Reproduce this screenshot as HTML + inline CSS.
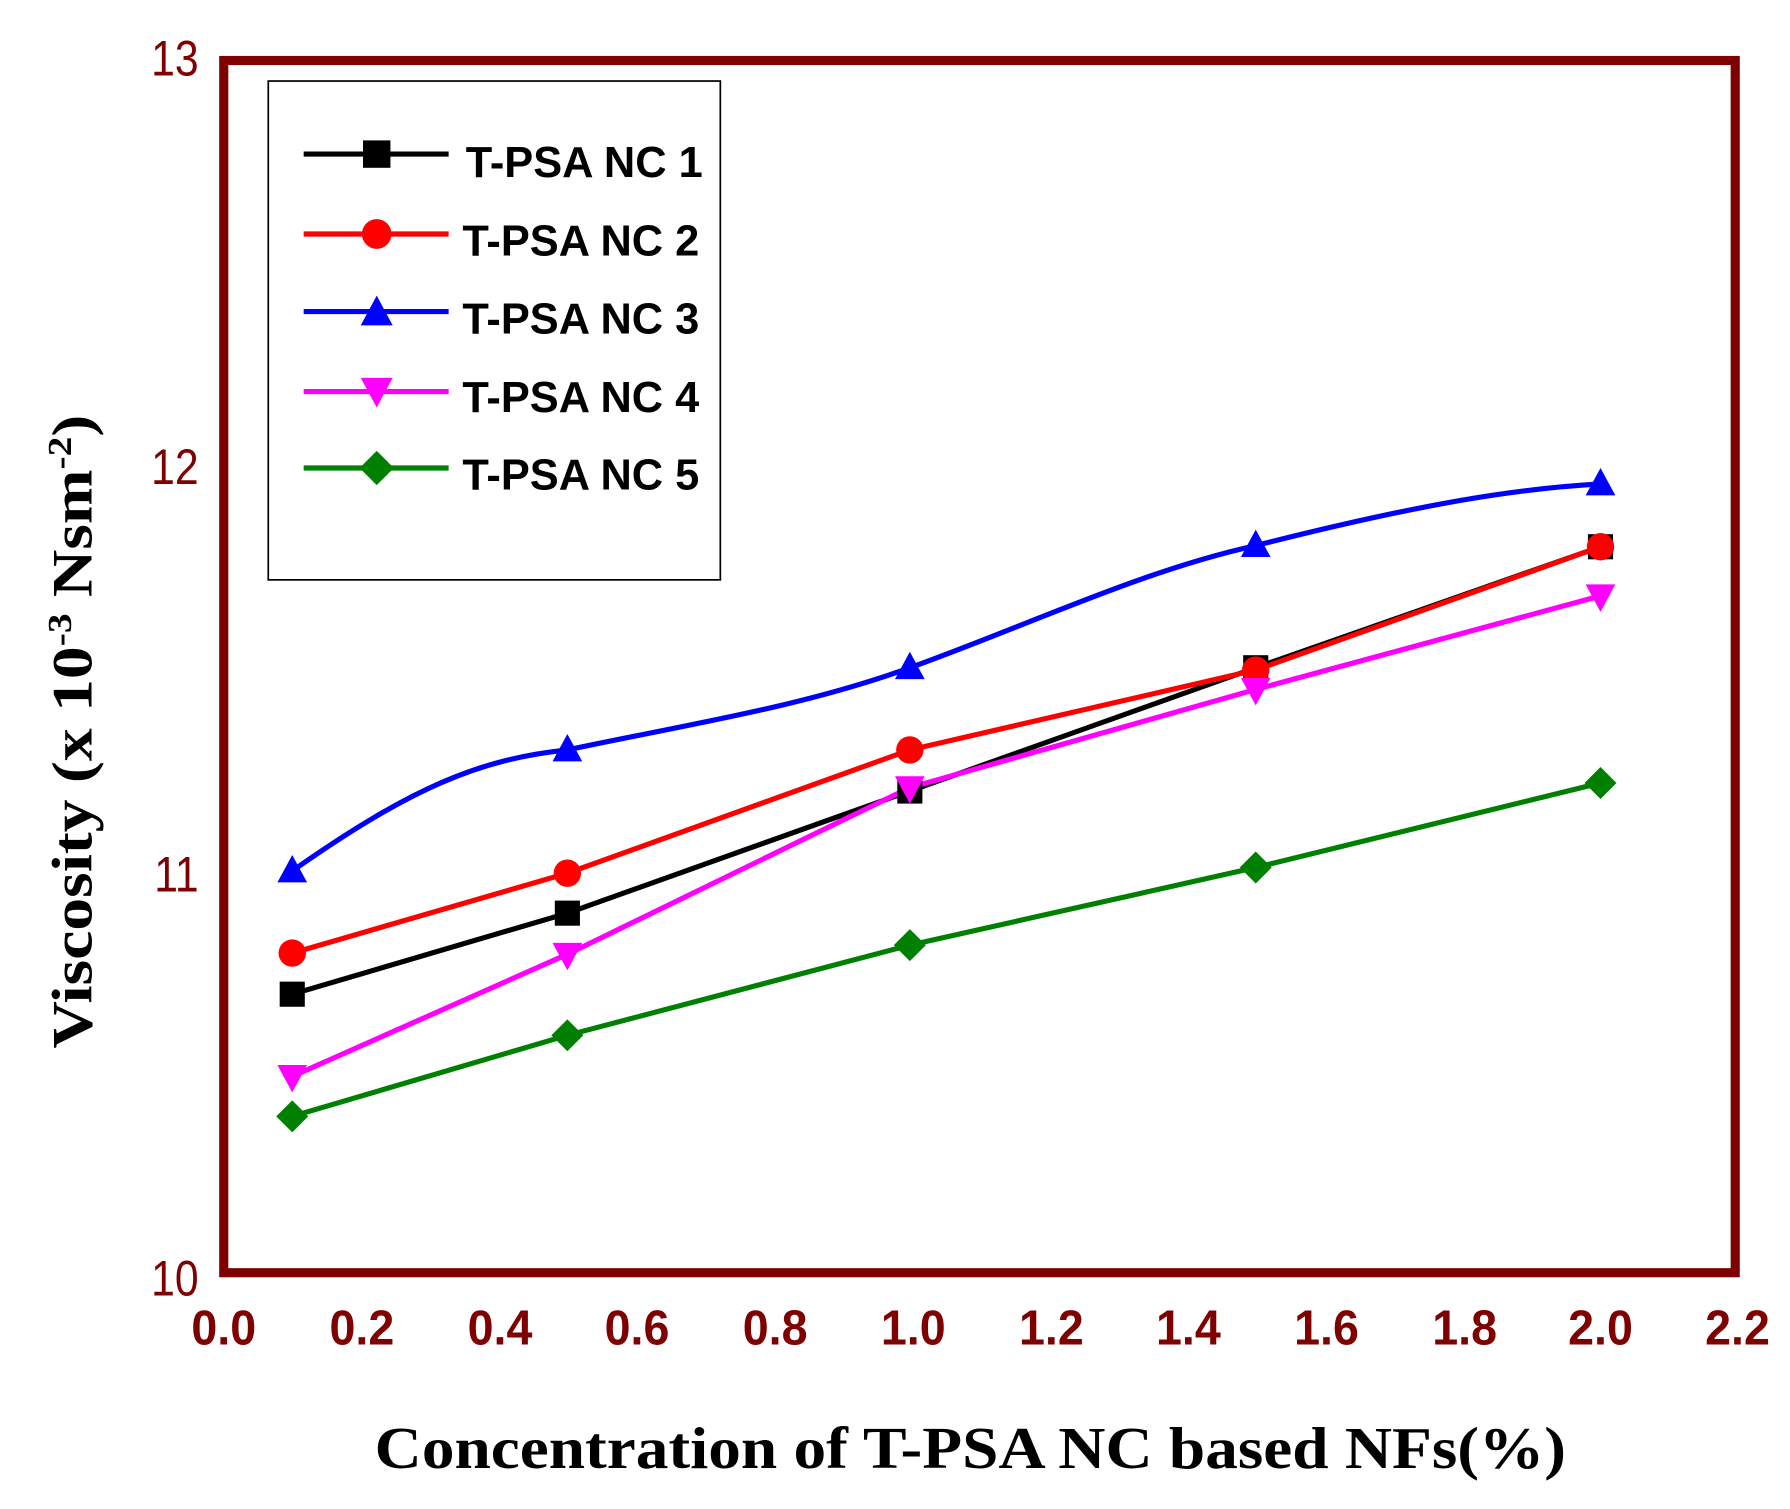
<!DOCTYPE html>
<html><head><meta charset="utf-8"><style>
html,body{margin:0;padding:0;background:#fff;}
svg{display:block;}
</style></head><body>
<svg width="1790" height="1509" viewBox="0 0 1568 1322" preserveAspectRatio="none" xmlns="http://www.w3.org/2000/svg">
<rect x="0" y="0" width="1568" height="1322" fill="#fff"/>
<rect x="196" y="53" width="1324" height="1062" fill="none" stroke="#7f0000" stroke-width="8"/>
<g font-family="Liberation Sans, sans-serif" font-size="44" fill="#7f0000" text-anchor="end">
<text transform="translate(174,66) scale(0.85,1)">13</text>
<text transform="translate(174,424) scale(0.85,1)">12</text>
<text transform="translate(174,781) scale(0.85,1)">11</text>
<text transform="translate(174,1135) scale(0.85,1)">10</text>
</g>
<g font-family="Liberation Sans, sans-serif" font-size="43" font-weight="bold" fill="#7f0000" text-anchor="middle">
<text transform="translate(196,1178) scale(0.95,1)">0.0</text>
<text transform="translate(317,1178) scale(0.95,1)">0.2</text>
<text transform="translate(438,1178) scale(0.95,1)">0.4</text>
<text transform="translate(558,1178) scale(0.95,1)">0.6</text>
<text transform="translate(679,1178) scale(0.95,1)">0.8</text>
<text transform="translate(800,1178) scale(0.95,1)">1.0</text>
<text transform="translate(921,1178) scale(0.95,1)">1.2</text>
<text transform="translate(1041,1178) scale(0.95,1)">1.4</text>
<text transform="translate(1162,1178) scale(0.95,1)">1.6</text>
<text transform="translate(1283,1178) scale(0.95,1)">1.8</text>
<text transform="translate(1402,1178) scale(0.95,1)">2.0</text>
<text transform="translate(1522,1178) scale(0.95,1)">2.2</text>
</g>
<text transform="translate(850,1286) scale(1.1,1)" font-family="Liberation Serif, serif" font-size="52" font-weight="bold" text-anchor="middle" fill="#000">Concentration of T-PSA NC based NFs(%)</text>
<text transform="translate(80,641) rotate(-90) scale(1.15,1)" font-family="Liberation Serif, serif" font-size="50" font-weight="bold" text-anchor="middle" fill="#000">Viscosity (x 10<tspan dy="-18" font-size="30">-3</tspan><tspan dy="18"> Nsm</tspan><tspan dy="-18" font-size="30">-2</tspan><tspan dy="18">)</tspan></text>
<g fill="none" stroke-width="4.5">
<polyline stroke="#000" points="256,871 497,800 797,693 1100,585 1402,479"/>
<polyline stroke="#f00" points="256,835 497,765 797,657 1100,587 1402,479"/>
<path stroke="#00f" d="M256,763 C360,690 420,665 497,657 C600,635 700,620 797,585 C900,548 1000,500 1100,478 C1250,440 1330,428 1402,424"/>
<polyline stroke="#f0f" points="256,943 497,836 797,690 1100,604 1402,522"/>
<polyline stroke="#008000" points="256,978 497,907 797,828 1100,760 1402,686"/>
</g>
<g fill="#000"><rect x="245" y="860" width="22" height="22"/><rect x="486" y="789" width="22" height="22"/><rect x="786" y="682" width="22" height="22"/><rect x="1089" y="574" width="22" height="22"/><rect x="1391" y="468" width="22" height="22"/></g>
<g fill="#f00"><circle cx="256" cy="835" r="12"/><circle cx="497" cy="765" r="12"/><circle cx="797" cy="657" r="12"/><circle cx="1100" cy="587" r="12"/><circle cx="1402" cy="479" r="12"/></g>
<g fill="#00f"><polygon points="256,749 243,773 269,773"/><polygon points="497,643 484,667 510,667"/><polygon points="797,571 784,595 810,595"/><polygon points="1100,464 1087,488 1113,488"/><polygon points="1402,410 1389,434 1415,434"/></g>
<g fill="#f0f"><polygon points="256,957 243,933 269,933"/><polygon points="497,850 484,826 510,826"/><polygon points="797,704 784,680 810,680"/><polygon points="1100,618 1087,594 1113,594"/><polygon points="1402,536 1389,512 1415,512"/></g>
<g fill="#008000"><polygon points="256,964 270,978 256,992 242,978"/><polygon points="497,893 511,907 497,921 483,907"/><polygon points="797,814 811,828 797,842 783,828"/><polygon points="1100,746 1114,760 1100,774 1086,760"/><polygon points="1402,672 1416,686 1402,700 1388,686"/></g>
<rect x="235" y="71" width="396" height="437" fill="#fff" stroke="#000" stroke-width="1.5"/>
<g stroke-width="4.5">
<line x1="266" y1="135" x2="393" y2="135" stroke="#000"/>
<line x1="266" y1="205" x2="393" y2="205" stroke="#f00"/>
<line x1="266" y1="273" x2="393" y2="273" stroke="#00f"/>
<line x1="266" y1="343" x2="393" y2="343" stroke="#f0f"/>
<line x1="266" y1="410" x2="393" y2="410" stroke="#008000"/>
</g>
<rect x="318" y="123" width="24" height="24" fill="#000"/>
<circle cx="330" cy="205" r="13" fill="#f00"/>
<polygon points="330,259 316,285 344,285" fill="#00f"/>
<polygon points="330,357 316,331 344,331" fill="#f0f"/>
<polygon points="330,395 345,410 330,425 315,410" fill="#008000"/>
<g font-family="Liberation Sans, sans-serif" font-size="38" font-weight="bold" fill="#000">
<text transform="translate(408,155) scale(1.0,1)">T-PSA NC 1</text>
<text transform="translate(405,224) scale(1.0,1)">T-PSA NC 2</text>
<text transform="translate(405,292) scale(1.0,1)">T-PSA NC 3</text>
<text transform="translate(405,361) scale(1.0,1)">T-PSA NC 4</text>
<text transform="translate(405,429) scale(1.0,1)">T-PSA NC 5</text>
</g>
</svg>
</body></html>
